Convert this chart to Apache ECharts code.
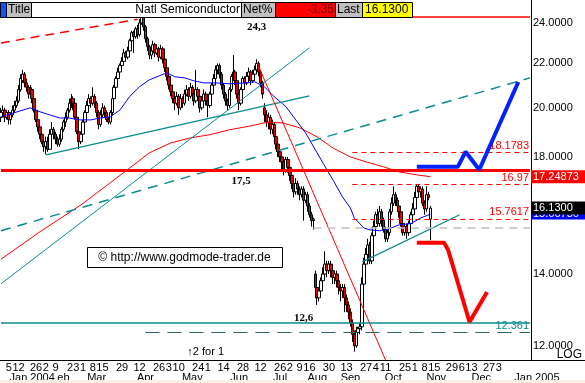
<!DOCTYPE html>
<html><head><meta charset="utf-8">
<script src="https://cdn.jsdelivr.net/npm/echarts@6/dist/echarts.min.js"></script>
<style>html,body{margin:0;padding:0;background:#fff}#c{width:585px;height:383px}</style>
</head><body><div id="c"></div><script>
const FONT = 'Liberation Sans, Arial, sans-serif';
const holidays = ['2004-01-01','2004-01-19','2004-02-16','2004-04-09','2004-05-31','2004-06-11','2004-07-05','2004-09-06','2004-11-25','2004-12-24','2005-01-17'];
function buildDates(y, m, d, count) {
  const out = []; let t = Date.UTC(y, m - 1, d);
  while (out.length < count) {
    const dt = new Date(t), wd = dt.getUTCDay(), s = dt.toISOString().slice(0, 10);
    if (wd !== 0 && wd !== 6 && holidays.indexOf(s) < 0) out.push(s);
    t += 86400000;
  }
  return out;
}
const dates = buildDates(2003, 12, 29, 272);

const open = [19.6,19.8,19.9,19.6,19.8,19.5,19.7,19.9,20.1,20.3,
20.8,21.2,21.5,21.1,20.9,20.6,20.8,20.4,19.9,19.5,
19.2,18.9,18.6,18.4,18.6,18.3,18.9,19.1,18.9,18.7,
18.5,18.7,19.1,19.4,19.6,19.9,20.2,20.4,20.2,19.6,
19.0,18.6,18.9,19.4,19.8,20.1,20.4,20.2,20.5,20.2,
19.8,19.3,19.7,20.0,19.8,19.5,19.4,19.8,20.4,20.9,
21.3,21.6,21.9,22.1,22.5,22.3,22.6,23.1,23.5,23.3,
23.7,23.4,24.0,24.3,23.8,23.2,22.8,22.4,22.6,22.9,
22.5,22.7,22.3,22.7,22.2,21.8,21.4,21.0,20.7,20.4,
20.2,20.5,20.0,20.4,20.2,20.6,20.8,20.5,20.9,20.6,
20.3,20.8,20.5,20.0,20.3,20.6,20.3,20.1,20.6,21.0,
21.3,21.7,21.9,21.5,21.0,20.6,20.3,20.1,20.8,21.4,
21.6,21.2,20.6,20.2,20.8,21.3,21.1,21.4,21.6,21.2,
21.5,21.7,22.0,21.6,21.1,20.0,19.7,19.4,19.6,19.1,
19.3,18.8,18.5,18.2,18.0,17.8,17.5,17.9,17.6,17.3,
17.0,16.7,17.0,16.8,16.6,16.8,16.4,16.6,16.2,15.9,
15.7,14.0,13.6,13.3,13.5,13.8,14.0,14.3,14.1,14.3,
14.1,13.9,14.0,13.8,13.6,13.5,13.6,13.3,13.1,12.9,
12.6,12.3,12.0,12.35,12.45,12.5,13.7,14.3,14.6,14.9,
14.4,15.2,15.5,15.9,15.6,16.0,15.7,15.4,15.1,15.3,
16.0,16.3,16.6,16.4,16.2,16.0,15.6,15.3,15.5,15.3,
15.6,15.9,16.1,16.5,16.9,16.7,16.8,16.3,16.1,16.6,
15.75];
const close = [19.8,19.9,19.6,19.8,19.5,19.7,19.9,20.1,20.3,20.8,
21.3,21.5,21.1,20.9,20.6,20.8,20.4,19.9,19.5,19.2,
18.9,18.6,18.4,18.6,18.3,18.9,19.1,18.9,18.7,18.5,
18.7,19.1,19.4,19.6,19.9,20.2,20.4,20.2,19.6,19.0,
18.6,18.9,19.4,19.8,20.1,20.4,20.2,20.5,20.2,19.8,
19.3,19.7,20.0,19.8,19.5,19.4,19.8,20.4,20.9,21.3,
21.6,21.9,22.1,22.5,22.3,22.6,23.1,23.5,23.3,23.7,
23.4,24.0,24.3,23.8,23.2,22.8,22.4,22.6,22.9,22.5,
22.7,22.3,22.7,22.2,21.8,21.4,21.0,20.7,20.4,20.2,
20.5,20.0,20.4,20.2,20.6,20.8,20.5,20.9,20.6,20.3,
20.8,20.5,20.0,20.3,20.6,20.3,20.1,20.6,21.0,21.3,
21.7,21.9,21.5,21.0,20.6,20.3,20.1,20.8,21.4,21.6,
21.2,20.6,20.2,20.8,21.3,21.1,21.4,21.6,21.2,21.5,
21.7,22.0,21.6,21.1,20.6,19.7,19.4,19.6,19.1,19.3,
18.8,18.5,18.2,18.0,17.8,17.5,17.9,17.6,17.3,17.0,
16.7,17.0,16.8,16.6,16.8,16.4,16.6,16.2,15.9,15.7,
15.75,13.6,13.3,13.5,13.8,14.0,14.3,14.1,14.3,14.1,
13.9,14.0,13.8,13.6,13.5,13.6,13.3,13.1,12.9,12.6,
12.3,12.0,12.4,12.45,12.5,13.7,14.3,14.6,14.9,14.4,
15.2,15.5,15.9,15.6,16.0,15.7,15.4,15.1,15.3,16.0,
16.3,16.6,16.4,16.2,16.0,15.6,15.3,15.5,15.3,15.6,
15.9,16.1,16.5,16.9,16.7,16.8,16.3,16.1,16.6,16.5,
16.13];
const low = [19.4,19.6,19.4,19.5,19.3,19.3,19.6,19.8,20.0,20.2,
20.7,21.1,20.9,20.7,20.4,20.5,20.2,19.8,19.4,19.0,
18.7,18.5,18.2,18.1,18.2,18.3,18.8,18.7,18.5,18.4,
18.4,18.6,19.0,19.2,19.5,19.8,20.0,19.9,19.5,18.9,
18.3,18.5,18.8,19.3,19.7,20.0,20.0,20.1,20.0,19.6,
19.1,19.2,19.6,19.6,19.4,19.3,19.3,19.7,20.3,20.8,
21.2,21.5,21.8,22.0,22.1,22.2,22.5,23.0,22.5,23.2,
23.2,23.3,23.9,23.6,23.0,22.6,22.2,22.2,22.5,22.3,
22.4,22.1,22.2,22.0,21.6,21.2,20.8,20.5,20.2,19.9,
20.1,19.7,19.9,20.0,20.1,20.5,20.3,20.4,20.4,20.1,
20.2,20.3,19.8,19.9,20.2,20.1,19.6,20.0,20.5,20.9,
21.2,21.5,21.3,20.8,20.4,20.1,19.9,20.0,20.7,21.2,
21.0,20.4,19.9,20.1,20.7,20.9,21.0,21.3,21.0,21.1,
21.4,21.6,21.4,20.9,20.4,19.4,19.2,19.1,18.9,18.9,
18.6,18.3,18.0,17.8,17.5,17.3,17.4,17.4,17.1,16.8,
16.5,16.6,16.6,16.4,16.5,15.7,16.3,16.0,15.8,15.5,
15.4,13.4,13.1,13.2,13.4,13.7,13.9,13.9,14.0,13.9,
13.7,13.7,13.6,13.4,13.2,13.3,12.9,12.9,12.7,12.5,
12.1,11.85,11.95,12.3,12.3,12.4,13.6,14.2,14.5,14.3,
14.3,15.0,15.4,15.5,15.5,15.5,15.3,15.0,15.0,15.2,
15.9,16.2,16.2,16.0,15.8,15.5,15.2,15.2,15.1,15.2,
15.5,15.8,16.0,16.4,16.5,16.5,16.2,15.9,16.0,16.4,
15.05];
const high = [20.0,20.1,20.0,19.9,19.9,19.8,20.1,20.3,20.5,21.0,
21.5,21.7,21.6,21.3,21.0,21.0,20.9,20.5,20.0,19.6,
19.3,19.0,18.7,18.8,18.8,19.1,19.4,19.2,19.0,18.8,
18.9,19.2,19.5,19.8,20.0,20.4,20.6,20.5,20.3,19.7,
19.1,19.0,19.5,19.9,20.3,20.6,20.5,20.9,20.6,20.3,
19.9,19.9,20.2,20.1,19.9,19.6,19.9,20.5,21.0,21.4,
21.8,22.0,22.3,22.7,22.6,22.8,23.2,23.6,23.6,23.8,
23.9,24.2,24.5,24.4,23.9,23.3,22.9,22.8,23.1,23.0,
22.9,22.8,22.9,22.8,22.3,21.9,21.5,21.1,20.8,20.5,
20.7,20.6,20.6,20.5,20.8,21.0,20.9,21.1,21.0,20.7,
21.7,20.9,20.6,20.5,20.8,20.7,20.4,20.7,21.1,21.5,
21.9,22.0,22.0,21.6,21.1,20.7,20.4,20.9,21.5,22.4,
21.7,21.3,20.7,20.9,21.4,21.4,21.6,21.8,21.7,21.7,
21.9,22.2,22.1,21.7,21.2,20.2,19.9,19.8,19.7,19.5,
19.4,18.9,18.6,18.3,18.1,17.9,18.0,18.0,17.7,17.4,
17.1,17.2,17.1,16.9,16.9,16.9,16.7,16.7,16.3,16.0,
15.8,14.1,13.7,13.6,13.9,14.2,14.7,14.4,14.4,14.4,
14.2,14.1,14.1,13.9,13.7,13.7,13.7,13.4,13.2,13.0,
12.7,12.4,12.5,12.5,12.6,13.9,14.5,14.8,15.1,15.0,
15.3,15.7,16.0,16.1,16.2,16.1,15.8,15.5,15.4,16.1,
16.5,16.9,16.7,16.5,16.3,16.1,15.7,15.6,15.6,15.7,
16.0,16.3,16.7,16.95,16.95,16.9,16.9,16.4,16.9,16.7,
16.2];

// moving averages: [day index, value]
const blueMa = [[0,19.62],[15,20.0],[20,19.83],[25,19.70],[30,19.57],[35,19.57],[40,19.49],[46,19.49],[51,19.57],[56,19.62],[61,19.91],[66,20.5],[71,20.93],[76,21.24],[81,21.42],[85,21.56],[89,21.38],[94,21.33],[99,21.19],[104,21.10],[110,21.10],[117,21.06],[125,21.10],[130,21.15],[135,20.92],[140,20.48],[146,20.05],[151,19.49],[156,18.96],[161,18.28],[165,17.76],[170,17.14],[175,16.51],[179,16.13],[181,15.79],[186,15.45],[189,15.39],[194,15.36],[199,15.43],[204,15.56],[210,15.6],[215,15.79],[220,15.92]];
const redMa = [[0,14.45],[20,15.33],[41,16.24],[56,17.03],[66,17.58],[76,18.16],[87,18.55],[97,18.75],[107,18.88],[117,19.08],[128,19.24],[135,19.37],[144,19.37],[153,19.16],[162,18.79],[170,18.35],[179,18.0],[187,17.81],[196,17.62],[204,17.43],[213,17.32],[220,17.25]];

// trend lines [day index, value]
const tealSteep = [[0,13.71],[158,22.75]];
const tealSupport = [[23,18.08],[158,20.52]];
const tealChannel = [[0,15.36],[271,21.33]];
const tealOct = [[185,14.37],[235,15.9]];
const redDown = [[131,22.07],[197,11.64]];
const redTopDash = [[0,22.99],[70,24.19]];
const blueProjection = [[213,17.62],[234,17.62],[238,18.20],[245,17.51],[265,21.14]];
const redProjection = [[213,14.97],[227,14.97],[229,14.75],[240,12.63],[249,13.47]];

// horizontal levels
const levelTop = 24.3, level175 = 17.5, level126 = 12.6, level12361 = 12.361;
const redLevels = [18.1783, 16.97, 15.7617];
const redLevelLabels = ['18.1783', '16.97', '15.7617'];
const grayLevel = 15.45;

const yTicks = [12, 14, 16, 18, 20, 22, 24];
const dayTickDates = ['2004-01-05','2004-01-12','2004-01-26','2004-02-02','2004-02-09','2004-02-23','2004-03-01','2004-03-08','2004-03-15','2004-03-29','2004-04-12','2004-04-26','2004-05-03','2004-05-10','2004-05-24','2004-06-01','2004-06-14','2004-06-28','2004-07-12','2004-07-26','2004-08-02','2004-08-09','2004-08-16','2004-08-30','2004-09-13','2004-09-27','2004-10-04','2004-10-11','2004-10-25','2004-11-01','2004-11-08','2004-11-15','2004-11-29','2004-12-06','2004-12-13','2004-12-27','2005-01-03'];
const monthTickDates = ['2004-01-22','2004-02-13','2004-03-10','2004-04-15','2004-05-19','2004-06-24','2004-07-26','2004-08-20','2004-09-15','2004-10-15','2004-11-16','2004-12-20','2005-01-13'];
const monthTickLabels = ['Jan 2004','eb','Mar','Apr','May','Jun','Jul','Aug','Sep','Oct','Nov','Dec','Jan 2005'];

const candleData = open.map((o, i) => [o, close[i], low[i], high[i]]);
const toXY = arr => arr.map(p => [dates[p[0]], p[1]]);
const TEAL = '#0a8c8c';

function hLine(v, k1, k2, style, label) {
  return [{ coord: [dates[k1], v], lineStyle: style, label: label || { show: false } }, { coord: [dates[k2], v] }];
}
function lineSeries(data, color, width, type, z) {
  return { type: 'line', data: toXY(data), symbol: 'none', silent: true, z: z || 3,
    lineStyle: { color: color, width: width, type: type || 'solid' }, animation: false };
}

const dayIdx = new Set(dayTickDates.map(d => dates.indexOf(d)));
const monthMap = {};
monthTickDates.forEach((d, i) => { monthMap[dates.indexOf(d)] = monthTickLabels[i]; });

const option = {
  animation: false,
  backgroundColor: '#fff',
  grid: { left: 0, right: 54, top: 0, bottom: 23, containLabel: false },
  xAxis: [{
    type: 'category', data: dates, boundaryGap: true,
    axisLine: { show: true, lineStyle: { color: '#000', width: 1 } },
    axisTick: { show: false }, splitLine: { show: false },
    axisLabel: { interval: (i) => dayIdx.has(i), formatter: v => String(parseInt(v.slice(8), 10)),
      fontSize: 11, fontFamily: FONT, color: '#000', margin: 2, hideOverlap: false }
  }, {
    type: 'category', data: dates, boundaryGap: true, position: 'bottom',
    axisLine: { show: false }, axisTick: { show: false }, splitLine: { show: false },
    axisLabel: { interval: (i) => monthMap[i] !== undefined,
      formatter: (v, i) => monthMap[i] === 'Jan 2005' ? '{s|Jan 2005}' : (monthMap[i] || ''),
      rich: { s: { padding: [0, 0, 0, 45], fontSize: 11, fontFamily: FONT, color: '#000' } },
      fontSize: 11, fontFamily: FONT, color: '#000', margin: 12, hideOverlap: false }
  }],
  yAxis: {
    type: 'log', logBase: 10, position: 'right', min: 11.64, max: 25.21,
    axisLine: { show: true, lineStyle: { color: '#000', width: 1 } },
    axisTick: { show: false }, splitLine: { show: false },
    axisLabel: { customValues: yTicks, formatter: v => Number(v).toFixed(4),
      fontSize: 11, fontFamily: FONT, color: '#000', margin: 2 }
  },
  series: [
    { type: 'candlestick', data: candleData, barWidth: 3, z: 2,
      itemStyle: { color: '#ffffff', color0: '#ee0000', borderColor: '#000', borderColor0: '#000', borderWidth: 1 },
      markLine: { silent: true, symbol: ['none', 'none'], animation: false,
        data: [
          hLine(levelTop, 72, 271, { color: '#ff0000', width: 1.5, type: 'solid' }),
          hLine(level126, 0, 271, { color: TEAL, width: 1.5, type: 'solid' }),
          hLine(level12361, 74, 271, { color: '#2c6464', width: 1.2, type: [14, 8] },
            { show: true, position: 'insideEndTop', formatter: '12.361', color: TEAL, fontSize: 11, fontFamily: FONT, distance: 1 }),
          hLine(grayLevel, 160, 271, { color: '#c0c0c0', width: 1.5, type: [8, 6] }),
          ...redLevels.map((v, i) => hLine(v, 180, 271, { color: '#ff0000', width: 1, type: [5, 4] },
            { show: true, position: 'insideEndTop', formatter: redLevelLabels[i], color: '#ff0000', fontSize: 11, fontFamily: FONT, distance: 1 })),
          hLine(level175, 0, 271, { color: '#ff0000', width: 3, type: 'solid' })
        ] } },
    lineSeries(redMa, '#ff0000', 1, 'solid'),
    lineSeries(blueMa, '#0000ff', 1, 'solid'),
    lineSeries(tealSteep, TEAL, 1, 'solid'),
    lineSeries(tealSupport, TEAL, 1.5, 'solid'),
    lineSeries(tealChannel, TEAL, 1.5, [10, 7]),
    lineSeries(tealOct, TEAL, 1.2, 'solid'),
    lineSeries(redDown, '#ff0000', 1, 'solid'),
    lineSeries(redTopDash, '#ff0000', 1.5, [9, 6]),
    lineSeries(blueProjection, '#0022ff', 4, 'solid', 5),
    lineSeries(redProjection, '#ff0000', 4, 'solid', 5)
  ]
};

const chart = echarts.init(document.getElementById('c'), null, { renderer: 'canvas' });
chart.setOption(option);

const px = (k, v) => chart.convertToPixel({ xAxisIndex: 0, yAxisIndex: 0 }, [dates[k], v]);
const py = v => chart.convertToPixel({ yAxisIndex: 0 }, v);
function txt(x, y, s, opt) {
  opt = opt || {};
  return { type: 'text', x: x, y: y, z: opt.z || 110, silent: true,
    style: { text: s, font: opt.font || ('12px ' + FONT), fill: opt.fill || '#000',
      align: opt.align || 'left', verticalAlign: 'middle', textAlign: opt.align || 'left', textVerticalAlign: 'middle' } };
}
function rect(x, y, w, h, fill, stroke, z) {
  return { type: 'rect', z: z || 100, silent: true, shape: { x: x, y: y, width: w, height: h },
    style: { fill: fill, stroke: stroke || null, lineWidth: 1 } };
}
const g = [];
// title bar
const TB = 2.5, TH = 15;
g.push(rect(0.5, TB, 6, TH, '#1450ff', '#000'));
g.push(rect(6.5, TB, 25, TH, '#c0c0c0', '#000')); g.push(txt(8, 10, 'Title'));
g.push(rect(31.5, TB, 210, TH, '#ffffff', '#000')); g.push(txt(240, 10, 'Natl Semiconductor', { align: 'right' }));
g.push(rect(241.5, TB, 34, TH, '#c0c0c0', '#000')); g.push(txt(243, 10, 'Net%'));
g.push(rect(275.5, TB, 60, TH, '#ff0000', '#000')); g.push(txt(334, 10, '-3.35', { align: 'right', fill: '#7a0000' }));
g.push(rect(335.5, TB, 27, TH, '#c0c0c0', '#000')); g.push(txt(337, 10, 'Last'));
g.push(rect(362.5, TB, 50, TH, '#ffff00', '#000')); g.push(txt(365, 10, '16.1300'));
// right value boxes
const yRed = py(17.24873), yLast = py(16.13);
g.push(rect(531, yRed - 6.5, 54, 13, '#ff0000')); g.push(txt(533, yRed, '17.24873', { fill: '#fff', font: '11px ' + FONT }));
g.push(rect(531, yLast - 0.5, 54, 12, '#0000ff', null, 101)); g.push(txt(533, yLast + 5.5, '15.66736', { fill: '#fff', font: '11px ' + FONT, z: 102 }));
g.push(rect(531, yLast - 6.5, 54, 13, '#000000', null, 105)); g.push(txt(533, yLast, '16.1300', { fill: '#fff', font: '11px ' + FONT, z: 112 }));
// annotations
const bold = 'bold 11px Liberation Serif, Times New Roman, serif';
let p = px(131, 23.8); g.push(txt(p[0], p[1], '24,3', { align: 'center', font: bold }));
p = px(123, 17.1); g.push(txt(p[0], p[1], '17,5', { align: 'center', font: bold }));
p = px(155, 12.74); g.push(txt(p[0], p[1], '12,6', { align: 'center', font: bold }));
p = px(97, 11.85); g.push(txt(p[0] - 3, p[1], '\u21912 for 1', { font: '11px ' + FONT }));
p = px(94, 14.53);
g.push(rect(Math.round(p[0] - 97) + 0.5, Math.round(p[1] - 10) + 0.5, 195, 20, '#ffffff', '#000'));
g.push(txt(p[0], p[1] + 0.5, '\u00a9 http://www.godmode-trader.de', { align: 'center', font: '12px ' + FONT }));
// chrome
g.push({ type: 'line', z: 100, silent: true, shape: { x1: 531, y1: 360.5, x2: 585, y2: 360.5 }, style: { stroke: '#000', lineWidth: 1 } });
g.push(txt(582, 355, 'LOG', { align: 'right', font: '12px ' + FONT }));
g.push(rect(0, 380, 585, 3, '#fcefe6'));
chart.setOption({ graphic: g });
</script></body></html>
